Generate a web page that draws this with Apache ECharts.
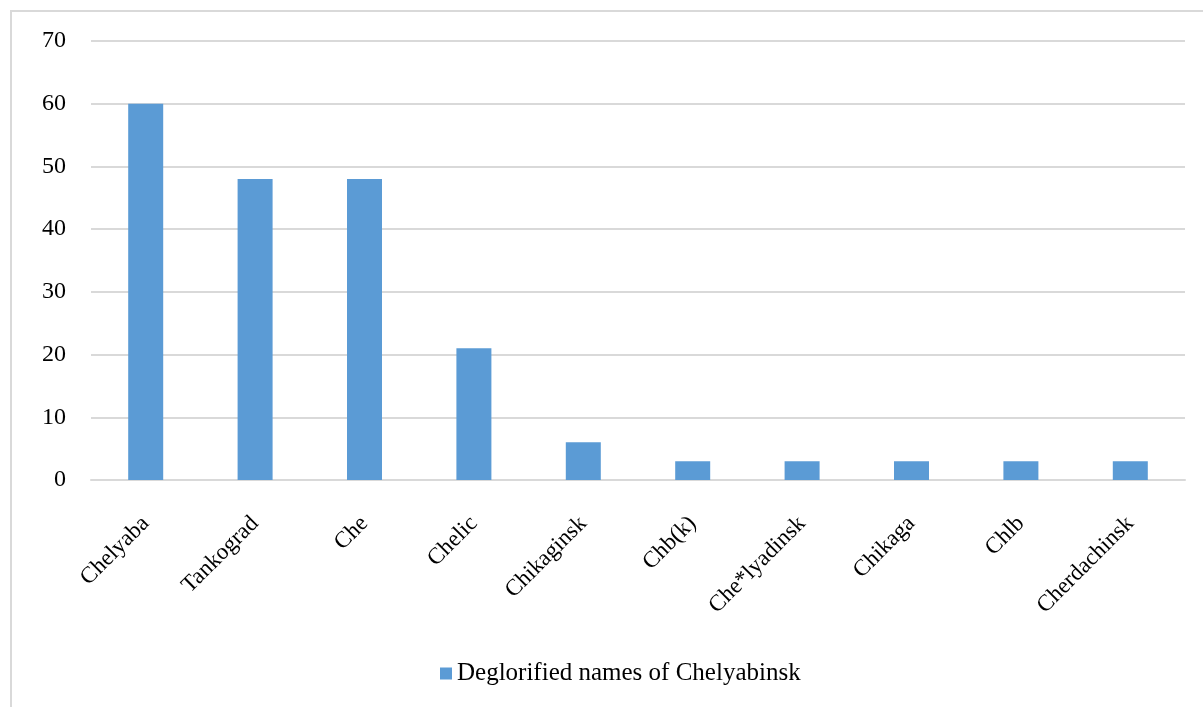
<!DOCTYPE html>
<html>
<head>
<meta charset="utf-8">
<script src="https://cdn.jsdelivr.net/npm/echarts@6/dist/echarts.min.js"></script>
<style>
html, body { margin: 0; padding: 0; background: #fff; }
#main { width: 1203px; height: 707px; }
</style>
</head>
<body>
<div id="main"></div>
<script>
var categories = ['Chelyaba', 'Tankograd', 'Che', 'Chelic', 'Chikaginsk', 'Chb(k)', 'Che*lyadinsk', 'Chikaga', 'Chlb', 'Cherdachinsk'];
var values = [60, 48, 48, 21, 6, 3, 3, 3, 3, 3];
var seriesName = 'Deglorified names of Chelyabinsk';

var myChart = echarts.init(document.getElementById('main'));
var font = 'Liberation Serif, Times New Roman, serif';
var option = {
    animation: false,
    graphic: [
        {
            type: 'polyline',
            shape: { points: [[11, 720], [11, 11], [1220, 11]] },
            style: { stroke: '#d9d9d9', lineWidth: 2, fill: null }
        }
    ],
    legend: {
        data: [seriesName],
        bottom: 16,
        left: 435,
        icon: 'rect',
        itemWidth: 12,
        itemHeight: 12,
        itemGap: 6,
        textStyle: { fontFamily: font, fontSize: 25, color: '#000' }
    },
    grid: {
        left: 91,
        right: 18,
        top: 41,
        bottom: 227,
        containLabel: false
    },
    xAxis: {
        type: 'category',
        data: categories,
        axisTick: { show: false },
        axisLine: { lineStyle: { color: '#d9d9d9', width: 2 } },
        axisLabel: {
            rotate: 45,
            interval: 0,
            margin: 40,
            fontFamily: font,
            fontSize: 23,
            color: '#000'
        }
    },
    yAxis: {
        type: 'value',
        min: 0,
        max: 70,
        interval: 10,
        axisLine: { show: false },
        axisTick: { show: false },
        splitLine: { lineStyle: { color: '#d9d9d9', width: 2 } },
        axisLabel: {
            margin: 25,
            fontFamily: font,
            fontSize: 24,
            color: '#000'
        }
    },
    series: [
        {
            name: seriesName,
            type: 'bar',
            data: values,
            barWidth: 35,
            itemStyle: { color: '#5b9bd5' }
        }
    ]
};
myChart.setOption(option);
</script>
</body>
</html>
